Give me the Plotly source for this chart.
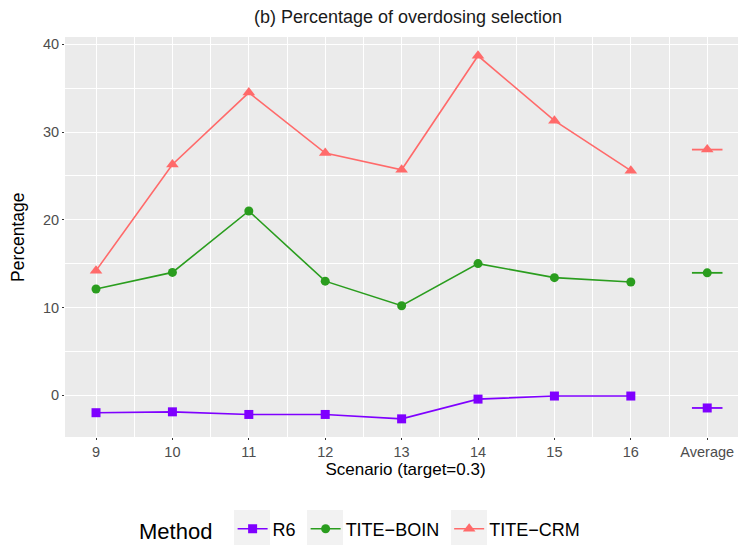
import plotly.graph_objects as go

# ---- data ----
scenarios = [9, 10, 11, 12, 13, 14, 15, 16]
avg_label = "Average"
methods = ["R6", "TITE−BOIN", "TITE−CRM"]
r6 = [-2.0, -1.9, -2.2, -2.2, -2.7, -0.45, -0.1, -0.1]
tite_boin = [12.1, 14.0, 21.0, 13.0, 10.2, 15.0, 13.4, 12.9]
tite_crm = [14.2, 26.3, 34.5, 27.6, 25.7, 38.7, 31.3, 25.6]
r6_avg = -1.46
tite_boin_avg = 13.95
tite_crm_avg = 28.0

# ---- styles ----
colors = ["#7F00FF", "#2A9D1E", "#FF6A6A"]
symbols = ["square", "circle", "triangle-up"]
msizes = [9, 9, 11]
series = [r6, tite_boin, tite_crm]
averages = [r6_avg, tite_boin_avg, tite_crm_avg]
legend_pad = ["\u00a0", "\u00a0", ""]

avg_pos = scenarios[-1] + 1
tickvals = scenarios + [avg_pos]
ticktext = [str(s) for s in scenarios] + [avg_label]

FONT = "Liberation Sans, Arial, Helvetica, sans-serif"

OFF = 8  # page body margin
W, H = 746 - OFF, 545 - OFF
ML, MR, MT, MB = 65 - OFF, 0, 37 - OFF, 545 - 437
PW, PH = W - ML - MR, H - MT - MB


def px_x(x):
    return (x - OFF - ML) / PW


def px_y(y):
    return (H - MB - (y - OFF)) / PH


fig = go.Figure()
for name, pad, vals, avg, c, sym, ms in zip(methods, legend_pad, series, averages,
                                             colors, symbols, msizes):
    fig.add_trace(go.Scatter(
        x=scenarios, y=vals, name=name + pad, mode="lines+markers",
        line=dict(color=c, width=1.6),
        marker=dict(symbol=sym, size=ms, color=c),
    ))
    fig.add_trace(go.Scatter(
        x=[avg_pos], y=[avg], name=name, mode="markers", showlegend=False,
        marker=dict(symbol=sym, size=ms, color=c),
        error_x=dict(type="constant", value=0.2, width=0, thickness=1.8, color=c),
    ))

# light grey legend key backgrounds (decoration, ggplot style)
key_centers = [252, 325, 469]
for kc in key_centers:
    fig.add_shape(type="rect", xref="paper", yref="paper",
                  x0=px_x(kc - 18), x1=px_x(kc + 18), y0=px_y(552), y1=px_y(510),
                  fillcolor="#F2F2F2", line=dict(width=0), layer="above")

fig.add_annotation(text="Percentage", xref="paper", yref="paper",
                   x=px_x(18), y=px_y(237), xanchor="center", yanchor="middle",
                   textangle=-90, showarrow=False, font=dict(size=17.5, color="#000000"))

fig.update_layout(
    width=W, height=H,
    margin=dict(l=ML, r=MR, t=MT, b=MB, autoexpand=False),
    paper_bgcolor="white",
    plot_bgcolor="#EBEBEB",
    font=dict(family=FONT, color="#000000"),
    title=dict(text="(b) Percentage of overdosing selection", x=px_x(408), xref="paper",
               xanchor="center", y=1 - (17 - OFF) / H, yref="container", yanchor="middle",
               font=dict(size=18, color="#1a1a1a")),
    showlegend=True,
    legend=dict(
        orientation="h", x=px_x(137), xanchor="left", y=px_y(530), yanchor="middle",
        title=dict(text="Method  ", font=dict(size=22), side="left"),
        font=dict(size=18, color="#000000"),
        bgcolor="rgba(0,0,0,0)", itemwidth=30, traceorder="normal",
    ),
)

fig.update_xaxes(
    range=[8.594, 8.594 + (746 - 65) / 76.4], tickmode="array", tickvals=tickvals,
    ticktext=ticktext,
    showgrid=True, gridcolor="white", gridwidth=1.3, zeroline=False,
    ticks="outside", ticklen=2, tickcolor="#333333",
    tickfont=dict(size=14.5, color="#4D4D4D"),
    minor=dict(tickmode="linear", tick0=8.5, dtick=1, showgrid=True,
               gridcolor="white", gridwidth=0.6, ticks=""),
    title=dict(text="Scenario (target=0.3)", font=dict(size=17), standoff=2),
    showline=False, automargin=False,
)
fig.update_yaxes(
    range=[-4.77, 40.84], tickmode="linear", tick0=0, dtick=10,
    showgrid=True, gridcolor="white", gridwidth=1.3, zeroline=False,
    ticks="outside", ticklen=2, tickcolor="#333333",
    tickfont=dict(size=14.5, color="#4D4D4D"),
    minor=dict(tickmode="linear", tick0=5, dtick=10, showgrid=True,
               gridcolor="white", gridwidth=0.6, ticks=""),
    showline=False, automargin=False,
)

fig.write_html("out.html")
